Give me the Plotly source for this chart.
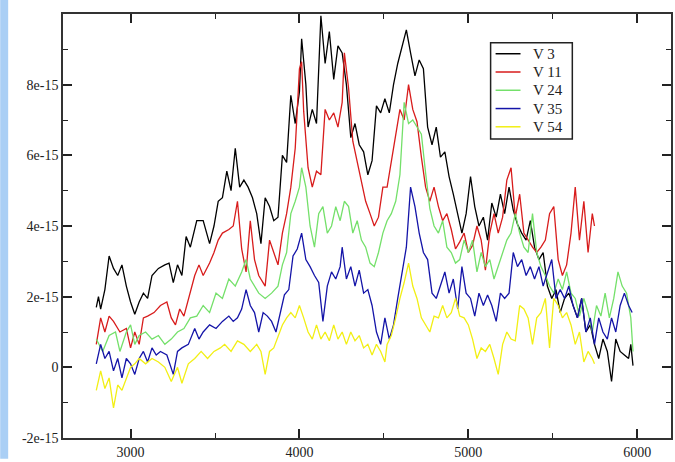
import plotly.graph_objects as go

# Wavelength (x) and flux (units of 1e-15) for each series
v3_x = [2797, 2810, 2823, 2848, 2873, 2899, 2924, 2949, 2975, 3000,
        3025, 3051, 3076, 3101, 3127, 3165, 3203, 3228, 3253, 3278,
        3304, 3329, 3354, 3392, 3430, 3468, 3494, 3519, 3544, 3570,
        3595, 3620, 3646, 3671, 3696, 3722, 3747, 3772, 3797, 3823,
        3848, 3873, 3899, 3924, 3949, 3975, 4000, 4013, 4038, 4051,
        4076, 4101, 4127, 4152, 4177, 4203, 4228, 4253, 4278, 4304,
        4329, 4354, 4380, 4405, 4430, 4456, 4481, 4506, 4532, 4557,
        4582, 4608, 4633, 4658, 4684, 4709, 4734, 4759, 4785, 4810,
        4835, 4861, 4886, 4911, 4937, 4962, 4987, 5013, 5038, 5063,
        5089, 5114, 5139, 5165, 5190, 5215, 5241, 5266, 5291, 5316,
        5342, 5367, 5392, 5418, 5443, 5468, 5494, 5519, 5544, 5570,
        5595, 5620, 5646, 5671, 5696, 5722, 5747, 5772, 5797, 5823,
        5848, 5873, 5899, 5924, 5949, 5962, 5975]
v3_y = [1.7, 2.0, 1.65, 2.2, 3.15, 2.8, 2.6, 2.9, 2.3, 1.85,
        1.5, 1.85, 2.1, 1.95, 2.6, 2.8, 2.9, 2.95, 2.4, 2.9,
        2.6, 3.7, 3.4, 4.15, 4.15, 3.5, 4.0, 4.7, 4.8, 5.55,
        5.0, 6.2, 5.1, 5.3, 5.1, 4.8, 4.35, 3.5, 4.8, 4.55,
        4.15, 4.25, 6.0, 5.8, 7.7, 6.9, 7.8, 9.3, 8.0, 6.8,
        7.3, 6.9, 9.95, 8.6, 9.5, 8.15, 9.1, 8.9, 8.0, 6.5,
        6.9, 6.3, 6.1, 5.45, 5.85, 7.4, 7.2, 7.6, 7.2, 8.0,
        8.6, 9.1, 9.55, 8.9, 8.25, 8.7, 8.45, 6.8, 6.3, 6.8,
        5.95, 6.1, 5.4, 4.9, 4.35, 3.8, 4.35, 5.4, 4.55, 4.0,
        4.25, 3.6, 4.65, 4.25, 4.9, 4.35, 5.1, 4.45, 4.05, 3.8,
        3.6, 4.15, 3.4, 3.05, 3.25, 2.3, 1.95, 2.2, 1.55, 1.95,
        2.1, 1.75, 1.4, 1.95, 1.0, 1.2, 0.65, 0.25, 0.8, 0.45,
        -0.4, 0.8, 0.45, 0.35, 0.25, 0.65, 0.05]

v11_x = [2797, 2823, 2848, 2873, 2899, 2937, 2975, 3000, 3025, 3051,
         3076, 3101, 3139, 3177, 3215, 3241, 3266, 3291, 3316, 3342,
         3380, 3405, 3430, 3468, 3494, 3519, 3544, 3582, 3608, 3633,
         3658, 3684, 3709, 3734, 3759, 3797, 3823, 3848, 3873, 3899,
         3924, 3949, 3975, 4000, 4013, 4025, 4051, 4076, 4101, 4127,
         4152, 4177, 4203, 4228, 4253, 4266, 4291, 4316, 4342, 4367,
         4392, 4418, 4443, 4468, 4494, 4519, 4544, 4570, 4595, 4620,
         4646, 4671, 4696, 4722, 4747, 4772, 4797, 4823, 4848, 4873,
         4899, 4924, 4949, 4975, 5000, 5025, 5051, 5076, 5101, 5127,
         5152, 5177, 5203, 5228, 5253, 5278, 5304, 5329, 5354, 5380,
         5405, 5430, 5456, 5481, 5506, 5532, 5557, 5582, 5608, 5633,
         5658, 5684, 5709, 5734, 5747]
v11_y = [0.65, 1.4, 1.0, 1.45, 1.3, 1.0, 1.1, 0.55, 1.0, 0.65,
         1.4, 1.45, 1.55, 1.75, 1.85, 1.4, 1.2, 1.65, 1.45, 1.95,
         2.6, 2.9, 2.6, 2.95, 3.25, 3.6, 3.8, 3.9, 4.0, 4.7,
         3.35, 2.7, 4.15, 3.05, 2.6, 2.3, 3.6, 3.25, 2.9, 3.8,
         4.35, 5.1, 6.2, 8.45, 8.65, 7.25, 5.65, 5.1, 5.55, 5.45,
         7.3, 7.0, 7.2, 6.8, 7.5, 8.9, 7.9, 6.4, 5.85, 5.3,
         4.7, 4.35, 4.0, 4.25, 5.1, 5.1, 5.85, 6.6, 7.3, 7.0,
         8.0, 7.3, 6.95, 5.95, 5.1, 4.7, 5.1, 4.55, 4.15, 4.35,
         3.9, 3.35, 3.55, 3.8, 3.25, 3.45, 4.0, 3.6, 2.75, 3.8,
         4.35, 3.8, 4.25, 5.3, 5.65, 4.25, 4.9, 3.8, 3.6, 3.4,
         3.25, 3.4, 3.6, 4.35, 4.55, 3.05, 2.6, 2.9, 3.8, 5.1,
         3.6, 4.7, 3.25, 4.35, 4.0]

v24_x = [2797, 2835, 2873, 2911, 2937, 2975, 3000, 3025, 3051, 3089,
         3127, 3165, 3203, 3241, 3278, 3316, 3354, 3392, 3430, 3468,
         3506, 3544, 3582, 3620, 3658, 3684, 3709, 3734, 3759, 3797,
         3835, 3873, 3899, 3924, 3949, 3975, 4000, 4013,
         4038, 4063, 4089, 4114, 4139, 4165, 4190, 4215, 4241, 4266,
         4291, 4316, 4342, 4367, 4392, 4418, 4443, 4468, 4494, 4519,
         4544, 4570, 4595, 4620, 4646, 4671, 4696, 4722, 4747, 4772,
         4797, 4823, 4848, 4873, 4899, 4924, 4949, 4975, 5000, 5025,
         5051, 5076, 5101, 5127, 5152, 5177, 5203, 5228, 5253, 5278,
         5304, 5329, 5354, 5380, 5405, 5430, 5456, 5481, 5506, 5532,
         5557, 5582, 5608, 5633, 5658, 5684, 5709, 5734, 5759, 5785,
         5810, 5835, 5861, 5886, 5911, 5937, 5962, 5975]
v24_y = [0.8, 0.45, 0.9, 1.0, 0.45, 1.0, 1.2, 0.65, 0.9, 1.0,
         0.8, 0.9, 0.65, 0.8, 1.0, 1.1, 1.4, 1.45, 1.75, 1.55,
         2.1, 1.95, 2.5, 2.3, 2.7, 3.05, 2.5, 2.3, 2.1, 1.95,
         2.1, 2.3, 2.9, 3.25, 4.35, 4.7, 5.1, 5.65,
         5.1, 4.0, 3.4, 4.35, 4.55, 3.8, 4.0, 4.55, 4.15, 4.7,
         4.55, 3.8, 4.15, 3.6, 3.4, 2.95, 2.85, 3.25, 3.8, 4.15,
         4.35, 4.7, 5.45, 7.5, 6.9, 7.0, 6.8, 6.6, 5.5, 4.5,
         4.0, 3.8, 4.15, 3.4, 3.25, 2.95, 3.05, 3.6, 3.25, 3.6,
         2.7, 3.25, 2.85, 3.05, 2.5, 2.85, 3.25, 3.6, 3.8, 4.35,
         3.8, 3.4, 3.25, 4.35, 3.25, 2.85, 2.6, 2.3, 2.1, 2.5,
         2.2, 2.7, 2.1, 1.95, 1.45, 1.95, 1.55, 1.0, 1.75, 1.45,
         2.1, 1.4, 1.95, 2.7, 2.3, 2.1, 1.4, 0.45]

v35_x = [2797, 2823, 2848, 2873, 2899, 2924, 2949, 2975, 3000, 3025,
         3051, 3076, 3101, 3127, 3152, 3177, 3215, 3253, 3278, 3304,
         3342, 3380, 3405, 3430, 3468, 3506, 3544, 3582, 3608, 3633,
         3658, 3684, 3709, 3734, 3759, 3785, 3810, 3835, 3861, 3886,
         3911, 3937, 3962, 3987, 4013, 4038, 4063, 4089, 4114, 4139,
         4165, 4190, 4215, 4241, 4253,
         4278, 4304, 4329, 4354, 4380, 4405, 4430, 4456, 4481, 4506,
         4532, 4557, 4582, 4608, 4633, 4658, 4684, 4709, 4734, 4759,
         4785, 4810, 4835, 4861, 4886, 4911, 4937, 4962, 4987, 5013,
         5038, 5063, 5089, 5114, 5139, 5165, 5190, 5215, 5241, 5266,
         5291, 5316, 5342, 5367, 5392, 5418, 5443, 5468, 5494, 5519,
         5544, 5570, 5595, 5620, 5646, 5671, 5696, 5722, 5747, 5772,
         5797, 5823, 5848, 5873, 5899, 5924, 5949, 5970]
v35_y = [0.1, 0.65, 0.25, 0.45, -0.1, 0.25, -0.3, 0.25, 0.1, -0.2,
         0.25, 0.45, 0.15, 0.55, 0.35, 0.45, 0.35, -0.2, 0.45, 0.55,
         0.65, 1.1, 0.8, 1.0, 1.2, 1.1, 1.3, 1.45, 1.3, 1.4,
         1.65, 2.2, 1.75, 1.55, 1.0, 1.55, 1.45, 1.3, 1.0, 1.55,
         2.05, 2.2, 3.15, 3.35, 3.8, 3.05, 2.85, 2.6, 2.4, 1.3,
         2.3, 2.7, 2.5, 2.85, 3.4,
         2.5, 2.85, 2.3, 2.75, 2.1, 2.2, 1.75, 1.0, 0.65, 1.4,
         0.8, 1.2, 1.95, 2.7, 3.4, 5.1, 4.55, 3.8, 3.25, 3.05,
         2.1, 1.95, 2.3, 2.7, 2.1, 2.5, 1.65, 2.85, 2.1, 1.95,
         1.45, 2.1, 1.75, 2.05, 1.75, 1.3, 2.1, 1.95, 2.1, 3.25,
         2.85, 3.05, 2.6, 2.85, 2.5, 2.85, 2.3, 2.7, 3.05, 1.95,
         2.2, 1.95, 2.3, 1.75, 1.4, 1.95, 1.0, 1.4, 0.65, 1.4,
         1.0, 0.8, 1.4, 1.0, 1.75, 2.1, 1.75, 1.55]

v54_x = [2797, 2823, 2848, 2873, 2899, 2924, 2949, 2975, 3000, 3025,
         3051, 3089, 3127, 3165, 3203, 3241, 3278, 3304, 3342, 3380,
         3418, 3456, 3494, 3532, 3557, 3595, 3633, 3671, 3709, 3747,
         3772,
         3797, 3823, 3848, 3873, 3899, 3924, 3949, 3975, 4000, 4025,
         4051, 4076, 4101, 4127, 4152, 4177, 4203, 4228, 4253, 4278,
         4304, 4329, 4354, 4380, 4405, 4430, 4456, 4481, 4506,
         4519, 4544, 4570, 4595, 4620, 4646, 4671, 4696, 4722, 4747,
         4772, 4797, 4823, 4848, 4873, 4899, 4924, 4949, 4975, 5000,
         5025, 5051, 5076, 5101, 5127, 5152, 5177, 5203, 5228, 5253,
         5278, 5304, 5329, 5354, 5380, 5405, 5430, 5456, 5481, 5506,
         5532, 5557, 5582, 5608, 5633, 5658, 5684, 5709, 5734, 5747]
v54_y = [-0.65, -0.1, -0.6, -0.3, -1.15, -0.5, -0.65, -0.3, 0.0, 0.1,
         0.25, 0.1, 0.25, 0.15, 0.0, -0.4, 0.0, -0.45, 0.1, 0.25,
         0.45, 0.25, 0.45, 0.55, 0.65, 0.45, 0.75, 0.65, 0.45, 0.65,
         0.45,
         -0.2, 0.45, 0.55, 0.9, 1.2, 1.4, 1.55, 1.4, 1.75, 1.4,
         1.0, 0.8, 1.2, 0.8, 1.0, 0.75, 1.2, 0.8, 1.0, 0.65,
         1.0, 0.75, 0.9, 0.55, 0.65, 0.35, 0.65, 0.45, 0.15,
         0.65, 0.9, 1.4, 1.95, 2.4, 2.95, 2.3, 1.95, 1.4, 1.2,
         1.0, 1.45, 1.4, 1.75, 1.4, 1.55, 1.95, 1.45, 1.4, 1.2,
         0.8, 0.25, 0.55, 0.45, 0.65, 0.25, -0.2, 0.65, 1.0, 0.8,
         0.75, 1.75, 1.65, 1.4, 0.65, 1.4, 1.55, 1.95, 0.55, 1.95,
         1.75, 1.4, 1.55, 1.2, 0.65, 1.0, 0.15, 0.45, 0.25, 0.1]

series_names = ["V 3", "V 11", "V 24", "V 35", "V 54"]
series_colors = ["#000000", "#d81c1c", "#74e06a", "#1414a8", "#f2ef14"]
xs = [v3_x, v11_x, v24_x, v35_x, v54_x]
ys = [v3_y, v11_y, v24_y, v35_y, v54_y]

y_ticks = [-2, 0, 2, 4, 6, 8]
y_ticktext = ["-2e-15", "0", "2e-15", "4e-15", "6e-15", "8e-15"]
x_ticks = [3000, 4000, 5000, 6000]
x_ticktext = ["3000", "4000", "5000", "6000"]

SCALE = 1e-15
font_family = "Liberation Serif, Times New Roman, serif"

fig = go.Figure()
for name, col, x, y in zip(series_names, series_colors, xs, ys):
    fig.add_trace(go.Scatter(x=x, y=[v * SCALE for v in y], mode="lines", name=name,
                             line=dict(color=col, width=1.3), showlegend=False))

# Boxed legend (tight line spacing like the original xmgrace legend)
shapes = [
    dict(type="rect", xref="paper", yref="paper",
         x0=-63 / 610, x1=-55 / 610, y0=-21 / 427, y1=1 + 14 / 427,
         fillcolor="#aacff5", line=dict(width=0), layer="below"),
    dict(type="rect", xref="paper", yref="paper",
         x0=0.7033, x1=0.8377, y0=0.7049, y1=0.9321,
         fillcolor="white", line=dict(color="#222", width=1.5), layer="above"),
]
annotations = []
leg_y = [0.9063, 0.8632, 0.8201, 0.7770, 0.7340]
for name, col, yy in zip(series_names, series_colors, leg_y):
    shapes.append(dict(type="line", xref="paper", yref="paper",
                       x0=0.7115, x1=0.7525, y0=yy, y1=yy,
                       line=dict(color=col, width=1.5), layer="above"))
    annotations.append(dict(xref="paper", yref="paper", x=0.7721, y=yy,
                            xanchor="left", yanchor="middle", showarrow=False,
                            borderpad=0,
                            text=name, font=dict(family=font_family, size=15, color="#222")))

fig.update_layout(
    width=675, height=462,
    margin=dict(l=63, r=2, t=14, b=21),
    paper_bgcolor="white", plot_bgcolor="white",
    font=dict(family=font_family, size=14, color="#222"),
    showlegend=False,
    shapes=shapes,
    annotations=annotations,
)
fig.update_xaxes(
    range=[2600, 6200], tickvals=x_ticks, ticktext=x_ticktext,
    ticks="inside", ticklen=9, tickwidth=1.5, tickcolor="#222",
    showline=True, linewidth=1.5, linecolor="#333", mirror="ticks",
    showgrid=False, zeroline=False,
    minor=dict(tickvals=[3500, 4500, 5500], ticks="inside", ticklen=5,
               tickwidth=1.2, tickcolor="#222", showgrid=False),
)
fig.update_yaxes(
    range=[-2e-15, 1e-14], tickvals=[v * SCALE for v in y_ticks], ticktext=y_ticktext,
    ticks="inside", ticklen=9, tickwidth=1.5, tickcolor="#222",
    showline=True, linewidth=1.5, linecolor="#333", mirror="ticks",
    showgrid=False, zeroline=False,
    minor=dict(tickvals=[v * SCALE for v in [-1, 1, 3, 5, 7, 9]], ticks="inside",
               ticklen=5, tickwidth=1.2, tickcolor="#222", showgrid=False),
)

fig.write_html("out.html")
